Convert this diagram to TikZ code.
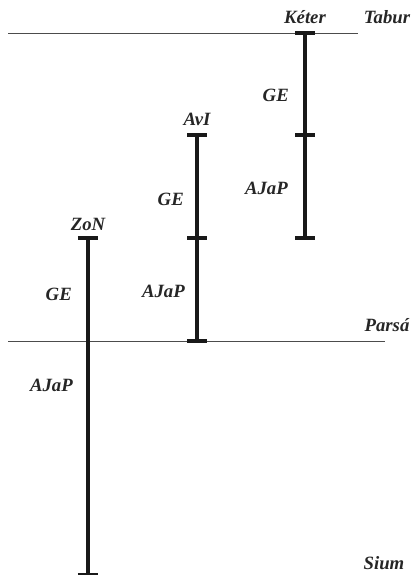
\documentclass[tikz,border=0pt]{standalone}
\usepackage{fontspec}
\setmainfont{Liberation Serif}
\usetikzlibrary{positioning}

\begin{document}
\begin{tikzpicture}[x=0.03cm,y=-0.03cm,
    level/.style={color=black!70, line width=0.8},
    stem/.style={color=black!90, line width=3},
    lbl/.style={font=\fontsize{16}{19}\selectfont\bfseries\itshape, inner sep=0, text=black!85}]
\useasboundingbox (0,0) rectangle (415,575);

    % levels
    \coordinate (tL) at (8,33);
    \coordinate (tR) at (358,33);
    \coordinate (pL) at (8,341);
    \coordinate (pR) at (385,341);
    \draw [level] (tL)--(tR);
    \draw [level] (pL)--(pR);
    \node [lbl] (tabur) at (387,17) {Tabur};
    \node [lbl] (parsa) at (387,325) {Pars\'a};
    \node [lbl] (sium) at (384,563) {Sium};

    % stems
    \coordinate (k0) at (305,33);
    \coordinate (k1) at (305,135);
    \coordinate (k2) at (305,238);
    \coordinate (a0) at (197,135);
    \coordinate (a1) at (197,238);
    \coordinate (a2) at (197,341);
    \coordinate (z0) at (88,238);
    \coordinate (z1) at (88,575);

    \draw [stem] (k0)--(k2);
    \draw [stem] (a0)--(a2);
    \draw [stem] (z0)--(z1);
    \foreach \p in {k0,k1,k2,a0,a1,a2,z0,z1}
        \draw [stem] ([xshift=-3mm]\p)--([xshift=3mm]\p);

    \node [lbl] (keter) at (305,17) {K\'eter};
    \node [lbl] (avi) at (197,119) {AvI};
    \node [lbl] (zon) at (88,224) {ZoN};

    \node [lbl, anchor=east] (kge) at (289,95) {GE};
    \node [lbl, anchor=east] (kajap) at (288,188) {AJaP};
    \node [lbl, anchor=east] (age) at (184,199) {GE};
    \node [lbl, anchor=east] (aajap) at (185,291) {AJaP};
    \node [lbl, anchor=east] (zge) at (72,294) {GE};
    \node [lbl, anchor=east] (zajap) at (73,385) {AJaP};

\end{tikzpicture}
\end{document}
